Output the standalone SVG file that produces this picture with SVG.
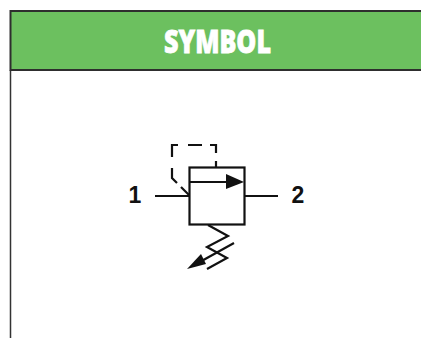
<svg xmlns="http://www.w3.org/2000/svg" width="421" height="338" viewBox="0 0 421 338">
<style>
.l{fill:none;stroke:#111;stroke-width:2.200}
.n{font-family:"Liberation Sans",Arial,sans-serif;font-weight:700;font-size:23px;fill:#111;text-anchor:middle}
</style>
<rect width="421" height="338" fill="#fff"/>
<g id="panel">
<path d="M10.500 70V338" fill="none" stroke="#333" stroke-width="1.500"/>
<rect x="10.500" y="11" width="412" height="59" fill="#6cc05f" stroke="#2e2e2e" stroke-width="2"/>
<text x="217.500" y="53" font-family="'Open Sans','Liberation Sans',sans-serif" font-weight="800" font-size="32px" fill="#fff" stroke="#fff" stroke-width="0.800" text-anchor="middle" textLength="107" lengthAdjust="spacingAndGlyphs">SYMBOL</text>
</g>
<g id="valve">
<rect class="l" x="189.500" y="167.500" width="55" height="57"/>
<path class="l" d="M189 182H230"/>
<path d="M226 174L244 182L226 189Z" fill="#111"/>
</g>
<g id="port-1"><text class="n" x="135" y="203">1</text></g>
<g id="port-2"><text class="n" x="298" y="203">2</text></g>
<g id="connectors">
<path class="l" d="M155 196H189"/>
<path class="l" d="M244 196H278"/>
<path class="l" d="M172 157V145H178M188 145H202M210 145H216V153M216 161V167M172 168V178L177 183M181 187L189 195"/>
<path class="l" d="M208 225L228 236L207 247L227 258L207 269"/>
<path class="l" d="M234 243L198 263"/>
<path d="M187 269L201 254L206 264Z" fill="#111"/>
</g>
</svg>
